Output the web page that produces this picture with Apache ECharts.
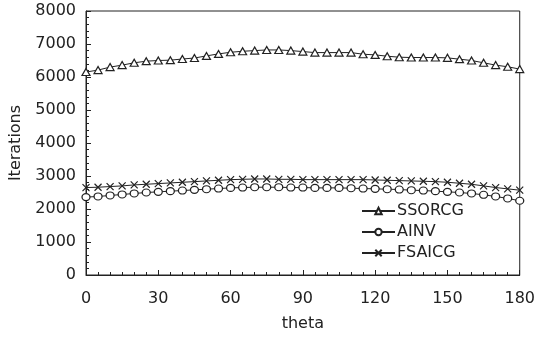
<!DOCTYPE html>
<html>
<head>
<meta charset="utf-8">
<script src="https://cdn.jsdelivr.net/npm/echarts@6/dist/echarts.min.js"></script>
<style>
    html, body { margin: 0; padding: 0; background: #fff; }
    #chart { width: 538px; height: 342px; }
</style>
</head>
<body>
<div id="chart"></div>
<script>
const theta = [0, 5, 10, 15, 20, 25, 30, 35, 40, 45, 50, 55, 60, 65, 70, 75, 80, 85, 90,
    95, 100, 105, 110, 115, 120, 125, 130, 135, 140, 145, 150, 155, 160, 165, 170, 175, 180];

const ssorcg = [6150, 6210, 6300, 6360, 6430, 6480, 6500, 6510, 6545, 6575, 6640, 6700, 6750,
    6780, 6800, 6820, 6820, 6800, 6770, 6740, 6740, 6740, 6740, 6690, 6670, 6630, 6600, 6590,
    6590, 6590, 6580, 6540, 6500, 6430, 6360, 6310, 6240];

const ainv = [2360, 2380, 2410, 2440, 2470, 2500, 2520, 2540, 2560, 2580, 2600, 2620, 2640,
    2650, 2660, 2660, 2660, 2650, 2650, 2640, 2640, 2640, 2630, 2620, 2610, 2600, 2590, 2570,
    2560, 2540, 2520, 2500, 2470, 2430, 2380, 2320, 2250];

const fsaicg = [2650, 2660, 2680, 2700, 2730, 2750, 2770, 2790, 2810, 2830, 2850, 2870, 2890,
    2900, 2910, 2910, 2900, 2900, 2890, 2890, 2890, 2890, 2890, 2890, 2880, 2870, 2860, 2850,
    2840, 2830, 2810, 2780, 2750, 2700, 2650, 2610, 2570];

const INK = "#222";
const FONT = "DejaVu Sans";
const CROSS = "path://M0,0L10,10M10,0L0,10";

const chart = echarts.init(document.getElementById("chart"), null, { renderer: "canvas" });

function series(name, data, symbol, size) {
    return {
        name,
        type: "line",
        data: theta.map((t, i) => [t, data[i]]),
        symbol,
        symbolSize: size,
        showAllSymbol: true,
        lineStyle: { color: INK, width: 1 },
        itemStyle: { color: "#fff", borderColor: INK, borderWidth: 1.2 },
        emphasis: { disabled: true },
    };
}

chart.setOption({
    animation: false,
    backgroundColor: "#fff",
    textStyle: { fontFamily: FONT, color: INK },
    grid: { left: 85, right: 16, top: 11, bottom: 67, show: true, borderColor: INK, borderWidth: 1 },
    legend: {
        orient: "vertical",
        left: 356,
        top: 198,
        itemWidth: 33,
        itemHeight: 8,
        itemGap: 5,
        textStyle: { fontFamily: FONT, fontSize: 16, color: INK, padding: [0, 0, 0, -3] },
        data: ["SSORCG", "AINV", "FSAICG"],
    },
    xAxis: {
        type: "value",
        min: 0,
        max: 180,
        interval: 30,
        name: "theta",
        nameLocation: "middle",
        nameGap: 41,
        nameTextStyle: { fontFamily: FONT, fontSize: 16, color: INK },
        axisLine: { lineStyle: { color: INK, width: 1 } },
        axisTick: { inside: true, length: 5, lineStyle: { color: INK } },
        minorTick: { show: true, splitNumber: 6, length: 3, lineStyle: { color: INK } },
        axisLabel: { fontFamily: FONT, fontSize: 16, color: INK, margin: 16 },
        splitLine: { show: false },
    },
    yAxis: {
        type: "value",
        min: 0,
        max: 8000,
        interval: 1000,
        name: "Iterations",
        nameLocation: "middle",
        nameGap: 62,
        nameTextStyle: { fontFamily: FONT, fontSize: 16, color: INK },
        axisLine: { show: true, lineStyle: { color: INK, width: 1 } },
        axisTick: { show: true, inside: true, length: 5, lineStyle: { color: INK } },
        minorTick: { show: true, splitNumber: 5, length: 3, lineStyle: { color: INK } },
        axisLabel: { fontFamily: FONT, fontSize: 16, color: INK, margin: 10, formatter: (v) => String(v) },
        splitLine: { show: false },
    },
    series: [
        series("SSORCG", ssorcg, "triangle", [8, 7]),
        series("AINV", ainv, "circle", [8, 7]),
        series("FSAICG", fsaicg, CROSS, 7),
    ],
});
</script>
</body>
</html>
